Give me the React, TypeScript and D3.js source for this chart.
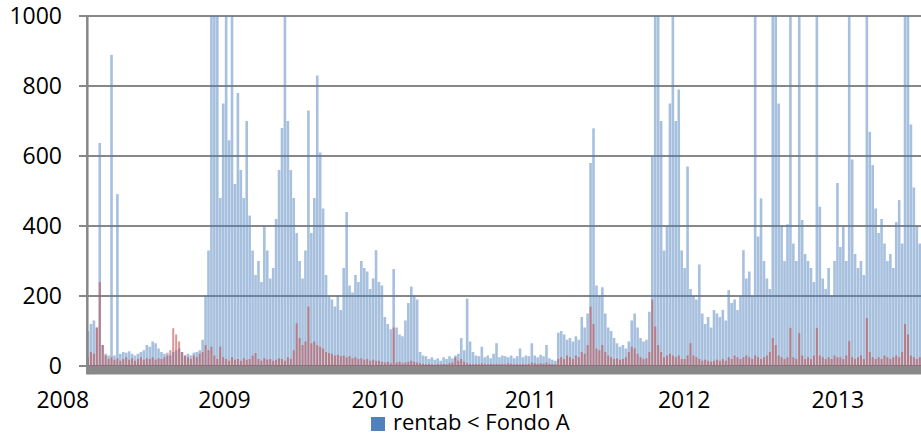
import { Component, createRef } from 'react'
import * as d3 from 'd3'

// weekly readings, one array per year, first week of each year below
const weekStarts = ['2008-02-11', '2009-01-05', '2010-01-04', '2011-01-03', '2012-01-02', '2013-01-07']
const yearLabels = ['2008', '2009', '2010', '2011', '2012', '2013']
const yTicks = [0, 200, 400, 600, 800, 1000]
const legendLabel = 'rentab < Fondo A'

const blue2008 = [100, 120, 130, 110, 637, 60, 35, 30, 889, 30, 491, 35, 40, 38, 42, 35, 30, 35, 40, 45,
    60, 55, 70, 65, 50, 40, 35, 38, 30, 40, 45, 50, 40, 30, 35, 30, 38, 40, 45, 75,
    200, 330, 1100, 1050, 1100, 480, 750]
const blue2009 = [1050, 645, 1020, 520, 780, 560, 480, 700, 430, 330, 260, 300, 240, 400, 330, 250, 280, 420, 560, 680,
    1050, 700, 560, 480, 380, 300, 250, 330, 730, 380, 480, 830, 610, 450, 260, 200, 190, 170, 200, 160,
    280, 440, 230, 210, 260, 240, 300, 280, 270, 220, 250, 331]
const blue2010 = [240, 230, 140, 120, 105, 277, 110, 90, 85, 130, 180, 227, 200, 190, 40, 30, 28, 20, 25, 18,
    22, 15, 25, 20, 28, 22, 30, 35, 80, 45, 193, 70, 40, 30, 28, 55, 25, 30, 22, 35,
    65, 25, 30, 28, 25, 30, 22, 28, 50, 25, 30, 28]
const blue2011 = [65, 30, 25, 32, 28, 60, 22, 18, 15, 95, 100, 90, 75, 80, 70, 85, 75, 140, 110, 150,
    580, 679, 230, 200, 225, 150, 110, 100, 80, 65, 55, 60, 50, 70, 130, 150, 110, 80, 70, 75,
    155, 600, 1100, 1050, 700, 330, 400, 750, 1050, 700, 790, 330]
const blue2012 = [280, 570, 220, 200, 190, 290, 150, 120, 140, 110, 160, 150, 140, 160, 130, 217, 180, 190, 160, 200,
    331, 250, 270, 200, 1050, 370, 479, 300, 250, 220, 1100, 1050, 750, 400, 300, 405, 1050, 350, 300, 1050,
    417, 320, 300, 280, 240, 1050, 455, 250, 220, 280, 200, 300, 523]
const blue2013 = [340, 397, 300, 1050, 590, 320, 280, 300, 260, 1050, 669, 574, 450, 380, 420, 350, 300, 320, 280, 411,
    474, 350, 1050, 1100, 690, 510, 400, 350]

const red2008 = [25, 40, 35, 110, 240, 60, 30, 20, 25, 18, 22, 15, 20, 25, 18, 22, 15, 20, 25, 18,
    22, 20, 25, 18, 22, 20, 25, 30, 45, 108, 90, 70, 40, 30, 25, 20, 30, 25, 35, 40,
    60, 45, 55, 30, 20, 55, 25]
const red2009 = [20, 15, 25, 18, 20, 15, 22, 18, 20, 30, 37, 20, 15, 22, 18, 20, 15, 18, 22, 20,
    15, 25, 20, 45, 122, 80, 60, 70, 170, 65, 70, 60, 55, 50, 40, 37, 35, 30, 32, 28,
    30, 25, 28, 22, 25, 20, 22, 18, 20, 15, 18, 15]
const red2010 = [15, 12, 10, 12, 8, 110, 10, 12, 8, 10, 12, 15, 12, 10, 8, 6, 5, 6, 5, 4,
    6, 5, 6, 5, 8, 10, 25, 15, 20, 12, 8, 6, 5, 6, 5, 8, 6, 5, 6, 5,
    6, 5, 6, 5, 8, 6, 5, 6, 5, 6, 5, 6]
const red2011 = [10, 8, 6, 8, 6, 10, 6, 5, 5, 20, 25, 20, 30, 25, 20, 30, 25, 40, 35, 60,
    170, 120, 50, 45, 60, 40, 30, 25, 20, 22, 18, 20, 25, 40, 55, 50, 35, 25, 20, 22,
    40, 190, 113, 60, 40, 25, 30, 35, 30, 25, 30, 20]
const red2012 = [20, 30, 65, 30, 25, 20, 15, 18, 15, 12, 15, 18, 15, 20, 15, 25, 20, 30, 25, 20,
    25, 30, 25, 20, 30, 25, 20, 25, 30, 40, 80, 60, 30, 25, 20, 25, 109, 25, 20, 94,
    30, 20, 25, 20, 30, 109, 30, 25, 20, 25, 20, 30, 25]
const red2013 = [25, 20, 30, 71, 25, 20, 25, 30, 20, 137, 40, 25, 20, 25, 20, 30, 25, 20, 25, 30,
    25, 40, 120, 90, 30, 25, 20, 25]

const blueByYear = [blue2008, blue2009, blue2010, blue2011, blue2012, blue2013]
const redByYear = [red2008, red2009, red2010, red2011, red2012, red2013]

const parseDate = d3.timeParse('%Y-%m-%d')

function toPoints(byYear: number[][]) {
    let out: { date: Date, value: number }[] = []
    byYear.forEach((values, y) => {
        let start = parseDate(weekStarts[y]) as Date
        values.forEach((v, i) => out.push({ date: d3.timeDay.offset(start, 7 * i), value: v }))
    })
    return out
}

class App extends Component {
    myRef = createRef<HTMLDivElement>()
    width = 921
    height = 436
    margin = { top: 16, left: 88, right: 0, bottom: 70 }
    font = '"Open Sans", "Liberation Sans", sans-serif'

    componentDidMount() {
        this.paint()
    }

    drawBars(svg: any, data: { date: Date, value: number }[], x: any, y: any, bw: number, color: string, opacity: number) {
        svg.append('g')
            .selectAll('rect')
            .data(data)
            .enter()
            .append('rect')
            .attr('x', (d: any) => x(d.date) - bw / 2)
            .attr('width', bw)
            .attr('y', (d: any) => y(d.value))
            .attr('height', (d: any) => y(0) - y(d.value))
            .attr('fill', color)
            .attr('fill-opacity', opacity)
    }

    paint = () => {
        let root = d3.select(this.myRef.current)
        root.selectAll('*').remove()
        let svg = root.append('svg')
            .attr('width', this.width)
            .attr('height', this.height)
            .style('display', 'block')
            .style('background', 'white')

        let x = d3.scaleTime()
            .domain([parseDate('2008-02-11') as Date, parseDate('2013-07-18') as Date])
            .range([this.margin.left, this.width])
        let y = d3.scaleLinear().domain([0, 1000]).range([366, this.margin.top]).clamp(true)

        // grid + y labels
        let grid = svg.append('g')
        grid.selectAll('line')
            .data(yTicks)
            .enter()
            .append('line')
            .attr('x1', 79)
            .attr('x2', this.width)
            .attr('y1', d => y(d))
            .attr('y2', d => y(d))
            .attr('stroke', '#878787')
            .attr('stroke-width', 2)
        grid.selectAll('text')
            .data(yTicks)
            .enter()
            .append('text')
            .attr('x', 62)
            .attr('y', d => y(d) + 8)
            .attr('text-anchor', 'end')
            .style('font-family', this.font)
            .style('font-size', '23px')
            .text(d => d)

        this.drawBars(svg, toPoints(blueByYear), x, y, 2.6, '#4F81BD', 0.5)
        this.drawBars(svg, toPoints(redByYear), x, y, 2, '#C0504D', 0.6)

        // floor band and vertical axis
        svg.append('rect')
            .attr('x', this.margin.left)
            .attr('y', y(0))
            .attr('width', this.width - this.margin.left)
            .attr('height', 8.5)
            .attr('fill', '#898989')
        svg.append('line')
            .attr('x1', 87.3)
            .attr('x2', 87.3)
            .attr('y1', this.margin.top)
            .attr('y2', y(0) + 8.5)
            .attr('stroke', '#878787')
            .attr('stroke-width', 2.5)

        // year labels
        svg.append('g')
            .selectAll('text')
            .data(yearLabels)
            .enter()
            .append('text')
            .attr('x', (d, i) => x(parseDate(d + '-01-01') as Date) + (i === 0 ? -8 : 0))
            .attr('y', 408)
            .attr('text-anchor', 'middle')
            .style('font-family', this.font)
            .style('font-size', '23px')
            .text(d => d)

        // legend
        let legend = svg.append('g')
        legend.append('rect')
            .attr('x', 371)
            .attr('y', 417)
            .attr('width', 14)
            .attr('height', 14)
            .attr('fill', '#4F81BD')
        legend.append('text')
            .attr('x', 393)
            .attr('y', 430)
            .style('font-family', this.font)
            .style('font-size', '22px')
            .text(legendLabel)
    }

    render() {
        return <div ref={this.myRef} style={{ position: 'absolute', left: 0, top: 0 }}></div>
    }
}

export default App
